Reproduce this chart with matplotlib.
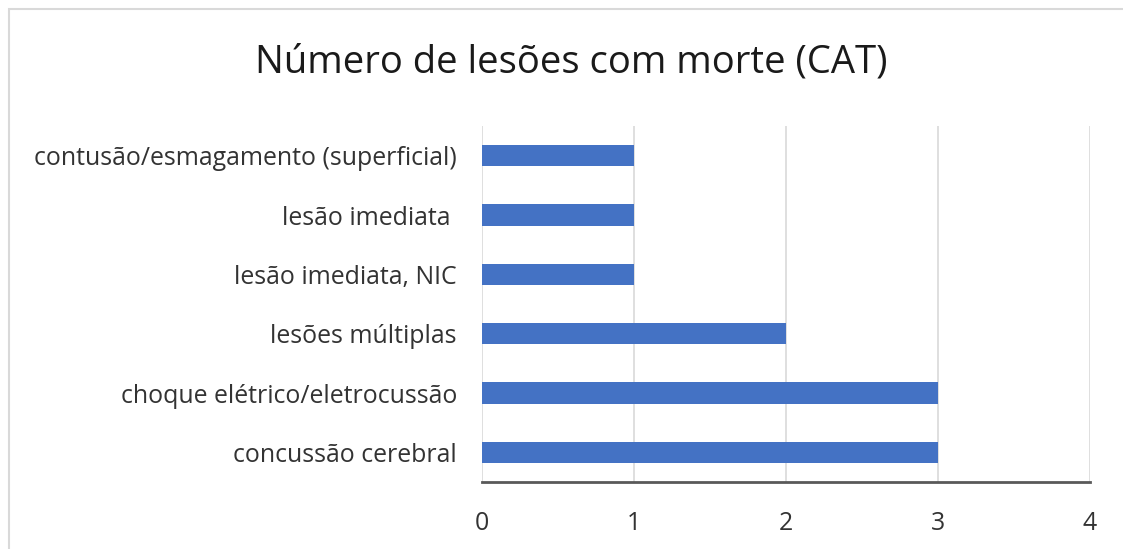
import matplotlib
matplotlib.use("Agg")
import matplotlib.pyplot as plt
from matplotlib.patches import Rectangle

categories = [
    "concussão cerebral",
    "choque elétrico/eletrocussão",
    "lesões múltiplas",
    "lesão imediata, NIC",
    "lesão imediata ",
    "contusão/esmagamento (superficial)",
]
values = [3, 3, 2, 1, 1, 1]
title = "Número de lesões com morte (CAT)"
xticks = [0, 1, 2, 3, 4]

W, H = 1123, 549
fig = plt.figure(figsize=(W / 100, H / 100), dpi=100)
plt.rcParams['font.family'] = ['Open Sans', 'DejaVu Sans']

# outer border
fig.patches.append(Rectangle((8.5 / W, -0.05), 1.2, 1 - 8.5 / H + 0.05,
                             transform=fig.transFigure, fill=False,
                             edgecolor="#d9d9d9", linewidth=1.5))

ax = fig.add_axes([482 / W, 1 - 482 / H, (1090 - 482) / W, (482 - 126) / H])
ax.barh(range(len(categories)), values, height=0.36, color="#4472C4", zorder=3)
ax.set_xlim(0, 4)
ax.set_ylim(-0.5, len(categories) - 0.5)
ax.set_xticks(xticks)
ax.set_yticks(range(len(categories)))
ax.set_yticklabels(categories, fontsize=17.9, color="#333333")
ax.set_xticklabels([str(t) for t in xticks], fontsize=17.9, color="#333333")
ax.tick_params(axis="both", length=0)
ax.tick_params(axis="y", pad=18)
ax.tick_params(axis="x", pad=21)
ax.grid(axis="x", color="#d9d9d9", linewidth=1.2, zorder=0)
for s in ["top", "right", "left"]:
    ax.spines[s].set_visible(False)
ax.spines["bottom"].set_color("#595959")
ax.spines["bottom"].set_linewidth(2)
ax.spines["bottom"].set_zorder(4)

fig.text(571 / W, 1 - 63 / H, title, ha="center", va="center", fontsize=27.5, color="#1a1a1a")

fig.savefig("out.png", dpi=100)
